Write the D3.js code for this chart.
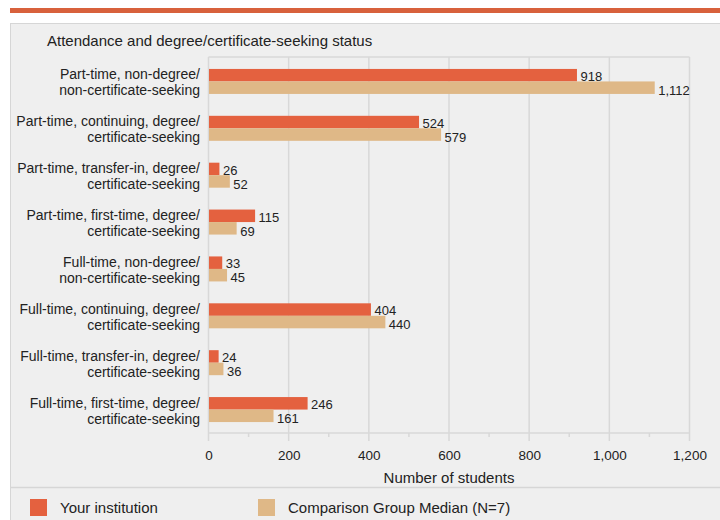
<!DOCTYPE html>
<html><head><meta charset="utf-8">
<script src="https://cdn.jsdelivr.net/npm/d3@7"></script>
<style>body{margin:0;background:#fff}svg{display:block;font-family:"Liberation Sans",Arial,sans-serif}</style>
</head><body><svg id="c" width="720" height="520"></svg>
<script>
const categories = [
  ["Part-time, non-degree/","non-certificate-seeking"],
  ["Part-time, continuing, degree/","certificate-seeking"],
  ["Part-time, transfer-in, degree/","certificate-seeking"],
  ["Part-time, first-time, degree/","certificate-seeking"],
  ["Full-time, non-degree/","non-certificate-seeking"],
  ["Full-time, continuing, degree/","certificate-seeking"],
  ["Full-time, transfer-in, degree/","certificate-seeking"],
  ["Full-time, first-time, degree/","certificate-seeking"]
];
const yourInstitution = [918, 524, 26, 115, 33, 404, 24, 246];
const comparisonMedian = [1112, 579, 52, 69, 45, 440, 36, 161];
const seriesNames = ["Your institution", "Comparison Group Median (N=7)"];
const xTicks = [0, 200, 400, 600, 800, 1000, 1200];
const minorTicks = [100, 300, 500, 700, 900, 1100];
const colors = ["#E4613F", "#DFB887"];

(function(){
const svg = d3.select("#c");
svg.append("rect").attr("x",10).attr("y",8).attr("width",710).attr("height",5).attr("fill","#D8613C");
svg.append("rect").attr("x",10.5).attr("y",23.5).attr("width",712).attr("height",500)
  .attr("fill","#EFEFEF").attr("stroke","#D6D6D6").attr("stroke-width",1);
svg.append("line").attr("x1",10).attr("x2",720).attr("y1",487.5).attr("y2",487.5)
  .attr("stroke","#D6D6D6").attr("stroke-width",1.5);

svg.append("text").attr("x",47).attr("y",46).attr("font-size",15).attr("fill","#222")
  .text("Attendance and degree/certificate-seeking status");

const pLeft = 208.5, pRight = 689.5, pTop = 57, pBottom = 433;
const x = d3.scaleLinear().domain([0,1200]).range([pLeft,pRight]);
const y = d3.scaleBand().domain(d3.range(categories.length)).range([pTop+1,pBottom]).paddingInner(0.46).paddingOuter(0.23);

const g = svg.append("g");
g.selectAll("line.grid").data(xTicks).join("line").attr("class","grid")
  .attr("x1",d=>x(d)).attr("x2",d=>x(d)).attr("y1",pTop).attr("y2",pBottom+8)
  .attr("stroke","#D8D8D8").attr("stroke-width",1.5);
g.append("line").attr("x1",pLeft).attr("x2",pRight).attr("y1",pTop).attr("y2",pTop)
  .attr("stroke","#D8D8D8").attr("stroke-width",1.5);
g.append("line").attr("x1",pLeft).attr("x2",pRight).attr("y1",pBottom).attr("y2",pBottom)
  .attr("stroke","#D8D8D8").attr("stroke-width",1.5);
g.selectAll("line.minor").data(minorTicks).join("line").attr("class","minor")
  .attr("x1",d=>x(d)).attr("x2",d=>x(d)).attr("y1",pBottom).attr("y2",pBottom+4)
  .attr("stroke","#D8D8D8").attr("stroke-width",1.5);

const ax = svg.append("g").attr("transform",`translate(0,${pBottom+8})`)
  .call(d3.axisBottom(x).tickValues(xTicks).tickFormat(d3.format(",")).tickSize(0).tickPadding(9));
ax.select(".domain").remove();
ax.selectAll("text").attr("font-size",13.5).attr("fill","#222").attr("font-family","Liberation Sans, Arial, sans-serif");

svg.append("text").attr("x",(pLeft+pRight)/2).attr("y",483).attr("text-anchor","middle")
  .attr("font-size",15).attr("fill","#222").text("Number of students");

const bh = 12.5;
const series = [yourInstitution, comparisonMedian];
series.forEach((vals, si) => {
  g.selectAll(`rect.s${si}`).data(vals).join("rect").attr("class",`s${si}`)
    .attr("x",x(0)+0.5).attr("y",(d,i)=>y(i)+(y.bandwidth()/2 - bh) + si*bh)
    .attr("width",d=>x(d)-x(0)).attr("height",bh).attr("fill",colors[si]);
  g.selectAll(`text.v${si}`).data(vals).join("text").attr("class",`v${si}`)
    .attr("x",d=>x(d)+4).attr("y",(d,i)=>y(i)+y.bandwidth()/2 - bh + (si+1)*bh + (si ? 1 : -0.5))
    .attr("font-size",13).attr("fill","#222").text(d=>d3.format(",")(d));
});

categories.forEach((c,i)=>{
  const cy = y(i)+y.bandwidth()/2;
  const t = svg.append("text").attr("x",200).attr("text-anchor","end").attr("font-size",14).attr("fill","#222");
  t.append("tspan").attr("x",200).attr("y",cy-2).text(c[0]);
  t.append("tspan").attr("x",200).attr("y",cy+14).text(c[1]);
});

const lx = [30, 258];
seriesNames.forEach((n,i)=>{
  svg.append("rect").attr("x",lx[i]).attr("y",499).attr("width",17).attr("height",17).attr("fill",colors[i]);
  svg.append("text").attr("x",lx[i]+30).attr("y",513).attr("font-size",15).attr("fill","#222").text(n);
});
})();
</script></body></html>
